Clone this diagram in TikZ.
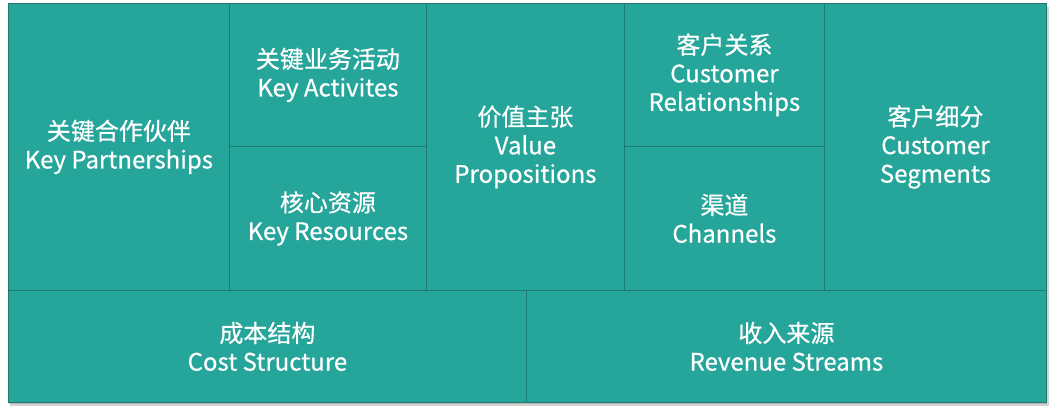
\documentclass[tikz,border=0pt]{standalone}
\usepackage{fontspec}
\setmainfont{Noto Sans CJK SC}[FakeBold=0.5]
\usepackage{xcolor}
\usepackage{tikz}
\usetikzlibrary{positioning, shadows}
\definecolor{canvasTeal}{HTML}{26A69A}
\definecolor{canvasLine}{HTML}{1F7A72}
\definecolor{canvasShadow}{HTML}{9A9A9A}

\begin{document}
\begin{tikzpicture}[
    x=1pt, y=-1pt,
    cell/.style={rectangle, draw=canvasLine, line width=0.8pt, fill=canvasTeal, text=white,
                 anchor=north west, inner sep=0pt, align=center,
                 font=\fontsize{24}{28.5}\selectfont},
]
\useasboundingbox (0,0) rectangle (1052,413);
% shadow under the whole canvas
\fill[canvasShadow!45] (10,7) rectangle (1049,406);
\fill[canvasShadow!70] (9,5) rectangle (1047,404);
% top row
\node[cell, minimum width=221pt, minimum height=287pt] (partners) at (8,3) {关键合作伙伴\\Key Partnerships};
\node[cell, minimum width=197pt, minimum height=143pt] (activities) at (229,3) {关键业务活动\\Key Activites};
\node[cell, minimum width=197pt, minimum height=144pt] (resources) at (229,146) {核心资源\\Key Resources};
\node[cell, minimum width=198pt, minimum height=287pt] (value) at (426,3) {价值主张\\Value\\Propositions};
\node[cell, minimum width=200pt, minimum height=143pt] (relations) at (624,3) {客户关系\\Customer\\Relationships};
\node[cell, minimum width=200pt, minimum height=144pt] (channels) at (624,146) {渠道\\Channels};
\node[cell, minimum width=222pt, minimum height=287pt] (segments) at (824,3) {客户细分\\Customer\\Segments};
% bottom row
\node[cell, minimum width=518pt, minimum height=112pt] (cost) at (8,290) {成本结构\\Cost Structure};
\node[cell, minimum width=520pt, minimum height=112pt] (revenue) at (526,290) {收入来源\\Revenue Streams};
\end{tikzpicture}
\end{document}
